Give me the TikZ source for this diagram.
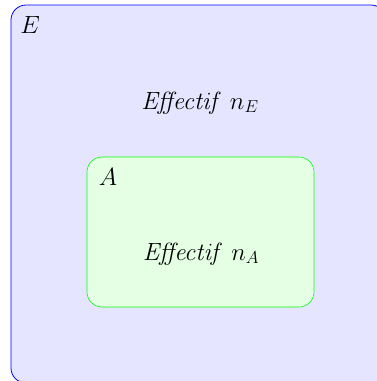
\documentclass[tikz,border=0pt]{standalone}
\begin{document}
\begin{tikzpicture}[x=1pt,y=-1pt,
  setE/.style={draw=blue, fill=blue!10, rounded corners=15pt, line width=0.8pt},
  setA/.style={draw=green, fill=green!10, rounded corners=15pt, line width=0.6pt},
  lbl/.style={inner sep=0pt, anchor=base, font=\fontsize{25.5}{30}\selectfont}]
\useasboundingbox (0,0) rectangle (377,381);
\begin{scope}
\clip (0,0) rectangle (377,381);
\draw[setE] (11,5) rectangle (386,383);
\end{scope}
\draw[setA] (87,157) rectangle (314,307);
\node[lbl] (e) at (30,33) {$E$};
\node[lbl] (ne) at (200,109) {$\mathit{Effectif}\ n_E$};
\node[lbl] (a) at (108,185) {$A$};
\node[lbl] (na) at (201,260) {$\mathit{Effectif}\ n_A$};
\end{tikzpicture}
\end{document}
